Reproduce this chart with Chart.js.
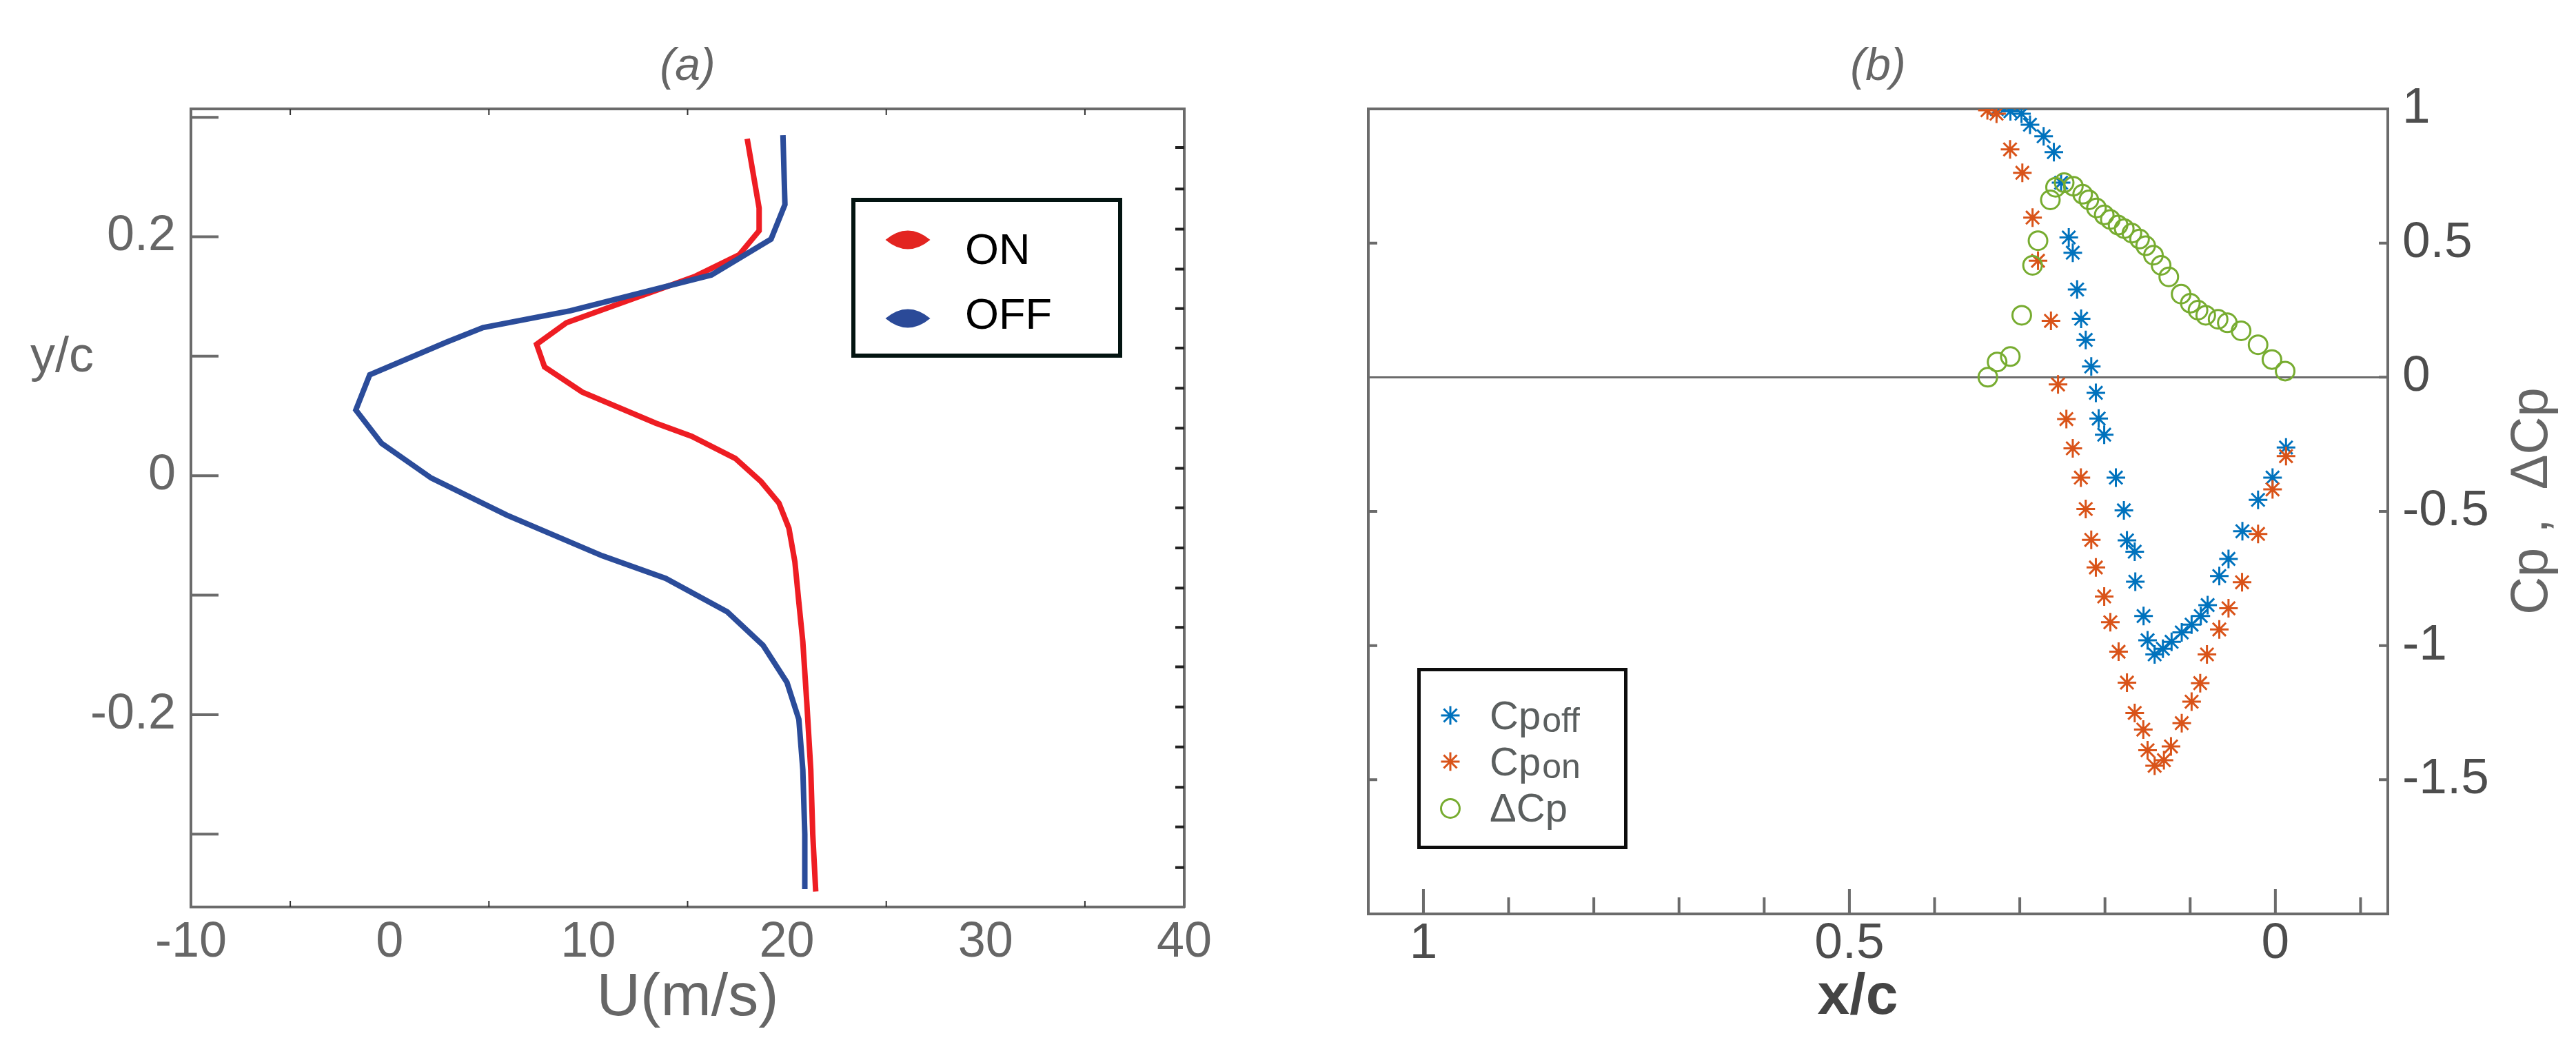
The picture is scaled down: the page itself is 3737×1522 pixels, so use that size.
<!DOCTYPE html>
<html><head><meta charset="utf-8">
<script src="https://cdn.jsdelivr.net/npm/chart.js"></script>
<style>
html,body{margin:0;padding:0;background:#fff;}
body{width:3737px;height:1522px;position:relative;overflow:hidden;}
canvas{position:absolute;top:0;}
#ca{left:0;} #cb{left:1860px;}
</style></head><body>
<canvas id="ca" width="1860" height="1522"></canvas>
<canvas id="cb" width="1877" height="1522"></canvas>
<script>
// ---------- Panel (a): velocity profiles ----------
const yOn  = [0.282,0.224,0.205,0.185,0.167,0.128,0.110,0.091,0.070,0.044,0.033,0.0145,-0.005,-0.023,-0.044,-0.072,-0.106,-0.139,-0.190,-0.246,-0.300,-0.348];
const uOn  = [18.0,18.6,18.6,17.6,15.4,8.9,7.4,7.8,9.7,13.4,15.2,17.4,18.7,19.6,20.1,20.4,20.6,20.8,21.0,21.2,21.3,21.45];
const yOff = [0.285,0.227,0.198,0.168,0.138,0.124,0.112,0.0845,0.055,0.027,-0.002,-0.033,-0.050,-0.067,-0.086,-0.114,-0.142,-0.173,-0.204,-0.246,-0.300,-0.346];
const uOff = [19.8,19.9,19.2,16.2,9.1,4.7,2.9,-1.0,-1.7,-0.4,2.1,5.9,8.3,10.7,13.9,17.0,18.8,20.0,20.6,20.8,20.9,20.9];
const uTicks = [-10,0,10,20,30,40];
const uMinorTicks = [-5,5,15,25,35];
const ycTicks = [0.2,0,-0.2];
const ycMinorTicks = [0.3,0.2,0.1,0,-0.1,-0.2,-0.3];
const ycRightTicks = [0.2747,0.240,0.2064,0.1729,0.1399,0.1069,0.0733,0.0397,0.0062,-0.0269,-0.0604,-0.094,-0.127,-0.160,-0.1936,-0.227,-0.2607,-0.294,-0.328];

// ---------- Panel (b): pressure coefficients ----------
const xcOff = [0.327,0.311,0.298,0.288,0.272,0.260,0.2515,0.2425,0.2378,0.2327,0.2280,0.2226,0.2161,0.2107,0.2074,0.2009,0.1872,0.1778,0.1742,0.1651,0.1644,0.1547,0.1500,0.1417,0.1320,0.1218,0.1099,0.0983,0.0875,0.0795,0.0658,0.0550,0.0387,0.0203,0.0033,-0.0125];
const cpOff = [0.999,0.991,0.982,0.941,0.898,0.839,0.725,0.521,0.464,0.327,0.218,0.139,0.040,-0.058,-0.154,-0.214,-0.374,-0.496,-0.608,-0.650,-0.762,-0.890,-0.980,-1.033,-1.012,-0.986,-0.951,-0.922,-0.890,-0.849,-0.741,-0.677,-0.574,-0.457,-0.374,-0.262];
const xcOn = [0.338,0.3273,0.3114,0.2970,0.2850,0.2786,0.2634,0.2551,0.2453,0.2378,0.2283,0.2226,0.2161,0.2107,0.2009,0.1937,0.1840,0.1742,0.1651,0.1550,0.1500,0.1417,0.1308,0.1225,0.1099,0.0983,0.0882,0.0803,0.0658,0.0550,0.0391,0.0203,0.0033,-0.0125];
const cpOn = [0.995,0.982,0.849,0.762,0.595,0.434,0.210,-0.027,-0.156,-0.265,-0.374,-0.491,-0.606,-0.709,-0.817,-0.913,-1.023,-1.138,-1.251,-1.313,-1.390,-1.448,-1.427,-1.376,-1.289,-1.209,-1.140,-1.033,-0.940,-0.861,-0.764,-0.584,-0.418,-0.294];
const xcDelta = [0.3375,0.3266,0.3111,0.2977,0.2850,0.2786,0.2641,0.2580,0.2479,0.2371,0.2262,0.2189,0.2100,0.2009,0.1937,0.1846,0.1774,0.1684,0.1594,0.1522,0.1431,0.1341,0.1251,0.1106,0.0998,0.0908,0.0817,0.0672,0.0564,0.0402,0.0203,0.0040,-0.0115];
const dCp = [0.000,0.057,0.077,0.231,0.417,0.509,0.661,0.708,0.725,0.712,0.682,0.661,0.631,0.605,0.588,0.567,0.554,0.537,0.515,0.490,0.455,0.417,0.374,0.310,0.276,0.250,0.231,0.216,0.203,0.173,0.121,0.066,0.023];
const xcTicks = [1,0.5,0];
const xcMinorTicks = [0.9,0.8,0.7,0.6,0.4,0.3,0.2,0.1,-0.1];
const cpTicks = [1,0.5,0,-0.5,-1,-1.5];
const cpLeftTicks = [0.5,-0.5,-1,-1.5];

// ---------- helpers ----------
const FONT = '"Liberation Sans", Arial, Helvetica, sans-serif';
const AX = '#6b6b6b';
const pts = (xs, ys) => xs.map((x, i) => ({x: x, y: ys[i]}));
const border = {display: true, color: AX, width: 4};
const noGrid = {display: false, drawTicks: false};
const setTicks = vals => s => { s.ticks = vals.map(v => ({value: v})); };

function makeDecor(cfg) {
  return {
    id: 'decor',
    afterDraw(chart) {
      const ctx = chart.ctx, ca = chart.chartArea;
      ctx.save();
      (cfg.ticks || []).forEach(t => {
        const sc = chart.scales[t.scale];
        ctx.strokeStyle = t.color; ctx.lineWidth = t.width; ctx.lineCap = 'butt';
        ctx.beginPath();
        t.values.forEach(v => {
          const p = sc.getPixelForValue(v);
          if (t.side === 'left') { ctx.moveTo(ca.left, p); ctx.lineTo(ca.left + t.len, p); }
          if (t.side === 'right') { ctx.moveTo(ca.right, p); ctx.lineTo(ca.right - t.len, p); }
          if (t.side === 'bottom') { ctx.moveTo(p, ca.bottom); ctx.lineTo(p, ca.bottom - t.len); }
          if (t.side === 'top') { ctx.moveTo(p, ca.top); ctx.lineTo(p, ca.top + t.len); }
        });
        ctx.stroke();
      });
      (cfg.boxes || []).forEach(b => {
        ctx.strokeStyle = b.color; ctx.lineWidth = b.width;
        ctx.strokeRect(b.x + b.width / 2, b.y + b.width / 2, b.w - b.width, b.h - b.width);
      });
      (cfg.markers || []).forEach(m => {
        ctx.strokeStyle = m.color; ctx.fillStyle = m.color; ctx.lineWidth = m.lw || 3;
        ctx.beginPath();
        if (m.type === 'lens') {
          ctx.moveTo(m.x - m.w / 2, m.y);
          ctx.quadraticCurveTo(m.x, m.y - m.h, m.x + m.w / 2, m.y);
          ctx.quadraticCurveTo(m.x, m.y + m.h, m.x - m.w / 2, m.y);
          ctx.fill();
        } else if (m.type === 'star') {
          for (let k = 0; k < 4; k++) {
            const a = k * Math.PI / 4;
            ctx.moveTo(m.x - Math.cos(a) * m.r, m.y - Math.sin(a) * m.r);
            ctx.lineTo(m.x + Math.cos(a) * m.r, m.y + Math.sin(a) * m.r);
          }
          ctx.stroke();
        } else if (m.type === 'circle') {
          ctx.arc(m.x, m.y, m.r, 0, Math.PI * 2);
          ctx.stroke();
        }
      });
      (cfg.texts || []).forEach(t => {
        ctx.save();
        ctx.translate(t.x, t.y);
        if (t.rotate) ctx.rotate(t.rotate);
        ctx.fillStyle = t.color;
        ctx.font = (t.style || '') + ' ' + t.size + 'px ' + FONT;
        ctx.textAlign = t.align || 'left';
        ctx.textBaseline = t.baseline || 'alphabetic';
        ctx.fillText(t.text, 0, 0);
        if (t.sub) {
          const w = ctx.measureText(t.text).width;
          ctx.font = t.subSize + 'px ' + FONT;
          ctx.fillText(t.sub, w + 2, t.subDy || 0);
        }
        ctx.restore();
      });
      ctx.restore();
    }
  };
}

// ---------- Chart (a) ----------
new Chart(document.getElementById('ca'), {
  type: 'scatter',
  data: {
    datasets: [
      {label: 'OFF', data: pts(uOff, yOff), showLine: true, borderColor: '#2B4C9A', borderWidth: 8, pointRadius: 0, tension: 0, order: 1},
      {label: 'ON', data: pts(uOn, yOn), showLine: true, borderColor: '#EE1D23', borderWidth: 8, pointRadius: 0, tension: 0, order: 2}
    ]
  },
  options: {
    responsive: false, animation: false, devicePixelRatio: 1,
    layout: {padding: 0},
    plugins: {legend: {display: false}, tooltip: {enabled: false}, title: {display: false}},
    scales: {
      x: {type: 'linear', position: 'bottom', min: -10, max: 40,
          afterBuildTicks: setTicks(uTicks),
          ticks: {font: {family: FONT, size: 72}, color: '#666', padding: 9, maxRotation: 0, autoSkip: false, callback: v => String(v)},
          grid: noGrid, border: border,
          title: {display: true, text: 'U(m/s)', font: {family: FONT, size: 88}, color: '#666', padding: {top: 0, bottom: 20}},
          afterFit: s => { s.height = 206; }},
      xt: {type: 'linear', position: 'top', min: -10, max: 40,
           ticks: {display: false}, grid: noGrid, border: border,
           title: {display: true, text: '(a)', font: {family: FONT, size: 66, style: 'italic'}, color: '#666', padding: {top: 58, bottom: 0}},
           afterFit: s => { s.height = 158; }},
      y: {type: 'linear', position: 'left', min: -0.361, max: 0.307,
          afterBuildTicks: setTicks(ycTicks),
          ticks: {font: {family: FONT, size: 72}, color: '#666', padding: 22, autoSkip: false, callback: v => String(v)},
          grid: noGrid, border: border,
          afterFit: s => { s.width = 277; }},
      yr: {type: 'linear', position: 'right', min: -0.361, max: 0.307,
           ticks: {display: false}, grid: noGrid, border: border,
           afterFit: s => { s.width = 142; }}
    }
  },
  plugins: [makeDecor({
    ticks: [
      {scale: 'y', side: 'left', values: ycMinorTicks, len: 40, width: 4, color: AX},
      {scale: 'yr', side: 'right', values: ycRightTicks, len: 13, width: 4, color: '#222'},
      {scale: 'x', side: 'bottom', values: uMinorTicks, len: 9, width: 2, color: '#333'},
      {scale: 'xt', side: 'top', values: uMinorTicks, len: 9, width: 2, color: '#333'}
    ],
    boxes: [{x: 1235, y: 287, w: 393, h: 232, width: 6, color: '#031411'}],
    markers: [
      {type: 'lens', x: 1317, y: 348, w: 65, h: 27, color: '#E32420'},
      {type: 'lens', x: 1317, y: 462, w: 65, h: 27, color: '#2B4A98'}
    ],
    texts: [
      {text: 'ON', x: 1400, y: 383, size: 63, color: '#000'},
      {text: 'OFF', x: 1400, y: 477, size: 63, color: '#000'},
      {text: 'y/c', x: 44, y: 539, size: 72, color: '#666'}
    ]
  })]
});

// ---------- Chart (b) ----------
new Chart(document.getElementById('cb'), {
  type: 'scatter',
  data: {
    datasets: [
      {label: 'ΔCp', data: pts(xcDelta, dCp), pointStyle: 'circle', pointRadius: 13.5, borderWidth: 3, borderColor: '#77AC30', backgroundColor: 'rgba(0,0,0,0)', order: 1},
      {label: 'Cp on', data: pts(xcOn, cpOn), pointStyle: 'star', pointRadius: 13.5, borderWidth: 3, borderColor: '#D95319', backgroundColor: '#D95319', order: 2},
      {label: 'Cp off', data: pts(xcOff, cpOff), pointStyle: 'star', pointRadius: 13.5, borderWidth: 3, borderColor: '#0072BD', backgroundColor: '#0072BD', order: 3}
    ]
  },
  options: {
    responsive: false, animation: false, devicePixelRatio: 1,
    layout: {padding: 0},
    plugins: {legend: {display: false}, tooltip: {enabled: false}, title: {display: false}},
    scales: {
      x: {type: 'linear', position: 'bottom', reverse: true, min: -0.132, max: 1.0647,
          afterBuildTicks: setTicks(xcTicks),
          ticks: {font: {family: FONT, size: 73}, color: '#4d4d4d', padding: 0, maxRotation: 0, autoSkip: false, callback: v => String(v)},
          grid: noGrid, border: border,
          title: {display: false},
          afterFit: s => { s.height = 196; }},
      xt: {type: 'linear', position: 'top', reverse: true, min: -0.132, max: 1.0647,
           ticks: {display: false}, grid: noGrid, border: border,
           title: {display: true, text: '(b)', font: {family: FONT, size: 66, style: 'italic'}, color: '#666', padding: {top: 58, bottom: 0}},
           afterFit: s => { s.height = 158; }},
      y: {type: 'linear', position: 'left', min: -2, max: 1,
          ticks: {display: false}, grid: noGrid, border: border,
          afterFit: s => { s.width = 125; }},
      yr: {type: 'linear', position: 'right', min: -2, max: 1,
           afterBuildTicks: setTicks(cpTicks),
           ticks: {font: {family: FONT, size: 73}, color: '#4d4d4d', padding: 21, autoSkip: false, callback: v => String(v)},
           grid: {display: true, drawTicks: false, lineWidth: 3, color: c => (c.tick && c.tick.value === 0) ? AX : 'rgba(0,0,0,0)'},
           border: border,
           afterFit: s => { s.width = 273; }}
    }
  },
  plugins: [makeDecor({
    ticks: [
      {scale: 'y', side: 'left', values: cpLeftTicks, len: 13, width: 4, color: AX},
      {scale: 'yr', side: 'right', values: cpTicks, len: 13, width: 4, color: AX},
      {scale: 'x', side: 'bottom', values: xcTicks, len: 36, width: 4, color: AX},
      {scale: 'x', side: 'bottom', values: xcMinorTicks, len: 24, width: 4, color: AX}
    ],
    boxes: [{x: 196, y: 969, w: 305, h: 263, width: 5, color: '#0d0d0d'}],
    markers: [
      {type: 'star', x: 244, y: 1038, r: 13.5, lw: 3, color: '#0072BD'},
      {type: 'star', x: 244, y: 1105, r: 13.5, lw: 3, color: '#D95319'},
      {type: 'circle', x: 244, y: 1173, r: 13.5, lw: 3, color: '#77AC30'}
    ],
    texts: [
      {text: 'Cp', sub: 'off', subSize: 50, subDy: 4, x: 301, y: 1058, size: 58, color: '#5b5f5f'},
      {text: 'Cp', sub: 'on', subSize: 50, subDy: 4, x: 301, y: 1125, size: 58, color: '#5b5f5f'},
      {text: 'ΔCp', x: 301, y: 1192, size: 58, color: '#5b5f5f'},
      {text: 'x/c', x: 835, y: 1448, size: 84, style: 'bold', color: '#444', align: 'center', baseline: 'middle'},
      {text: 'Cp ,  ΔCp', x: 1814, y: 727, size: 76, color: '#666', align: 'center', baseline: 'middle', rotate: -Math.PI / 2}
    ]
  })]
});
</script></body></html>
